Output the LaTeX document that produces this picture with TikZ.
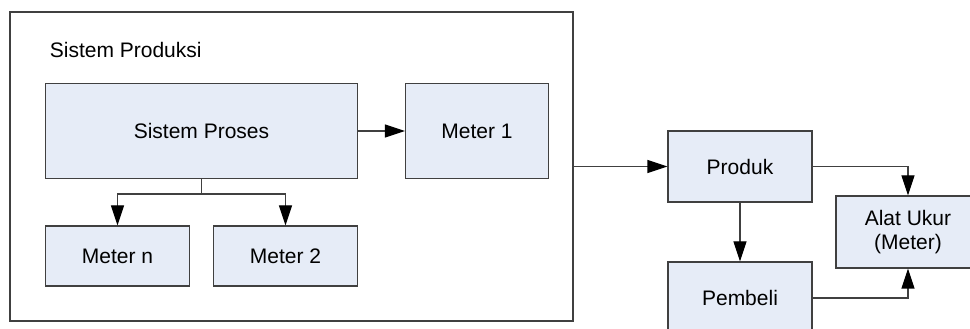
\documentclass[tikz,border=0pt]{standalone}
\usepackage{fontspec}
\setmainfont{Liberation Sans}
\usepackage{xcolor}
\usetikzlibrary{arrows.meta}
\definecolor{isikotak}{RGB}{230,236,247}
\definecolor{garis}{RGB}{64,64,64}

\begin{document}
\begin{tikzpicture}[x=1pt,y=1pt,line width=1.1pt]
	
	\tikzstyle{kotak} = [draw=garis,fill=isikotak,inner sep=0pt,align=center,font=\fontsize{21}{24}\selectfont]
	\tikzstyle{panah} = [draw=garis,-{Triangle[length=20pt,width=13pt,color=black]}]
	
	\clip (0,0) rectangle (970,329);
	\useasboundingbox (0,0) rectangle (970,329);
	
	% kotak besar
	\node[draw=garis,fill=white,minimum width=563pt,minimum height=309pt] (sistem) at (291.5,162.5) {};
	\node[anchor=west,font=\fontsize{21}{24}\selectfont] (judul) at (46,279) {Sistem Produksi};
	
	\node[kotak,minimum width=312pt,minimum height=95pt] (proses) at (201.5,198) {Sistem Proses};
	\node[kotak,minimum width=143pt,minimum height=95pt] (meter1) at (477,198) {Meter 1};
	\node[kotak,minimum width=144pt,minimum height=60pt] (metern) at (117.5,73) {Meter n};
	\node[kotak,minimum width=144pt,minimum height=60pt] (meter2) at (285.5,73) {Meter 2};
	
	% di luar sistem
	\node[kotak,minimum width=144pt,minimum height=71pt] (produk) at (740,162.5) {Produk};
	\node[kotak,minimum width=144pt,minimum height=72pt] (pembeli) at (740,31) {Pembeli};
	\node[kotak,minimum width=144pt,minimum height=72pt] (alat) at (908,97) {Alat Ukur\\(Meter)};
	
	% Panah
	\draw[panah] (proses.east) -- (meter1.west);
	\draw[panah] (proses.south) -- ++(0,-15) -| (metern.north);
	\draw[panah] (proses.south) -- ++(0,-15) -| (meter2.north);
	
	\draw[panah] (sistem.east) -- (produk.west);
	\draw[panah] (produk.south) -- (pembeli.north);
	\draw[panah] (produk.east) -| (alat.north);
	\draw[panah] (pembeli.east) -| (alat.south);
	
\end{tikzpicture}
\end{document}
